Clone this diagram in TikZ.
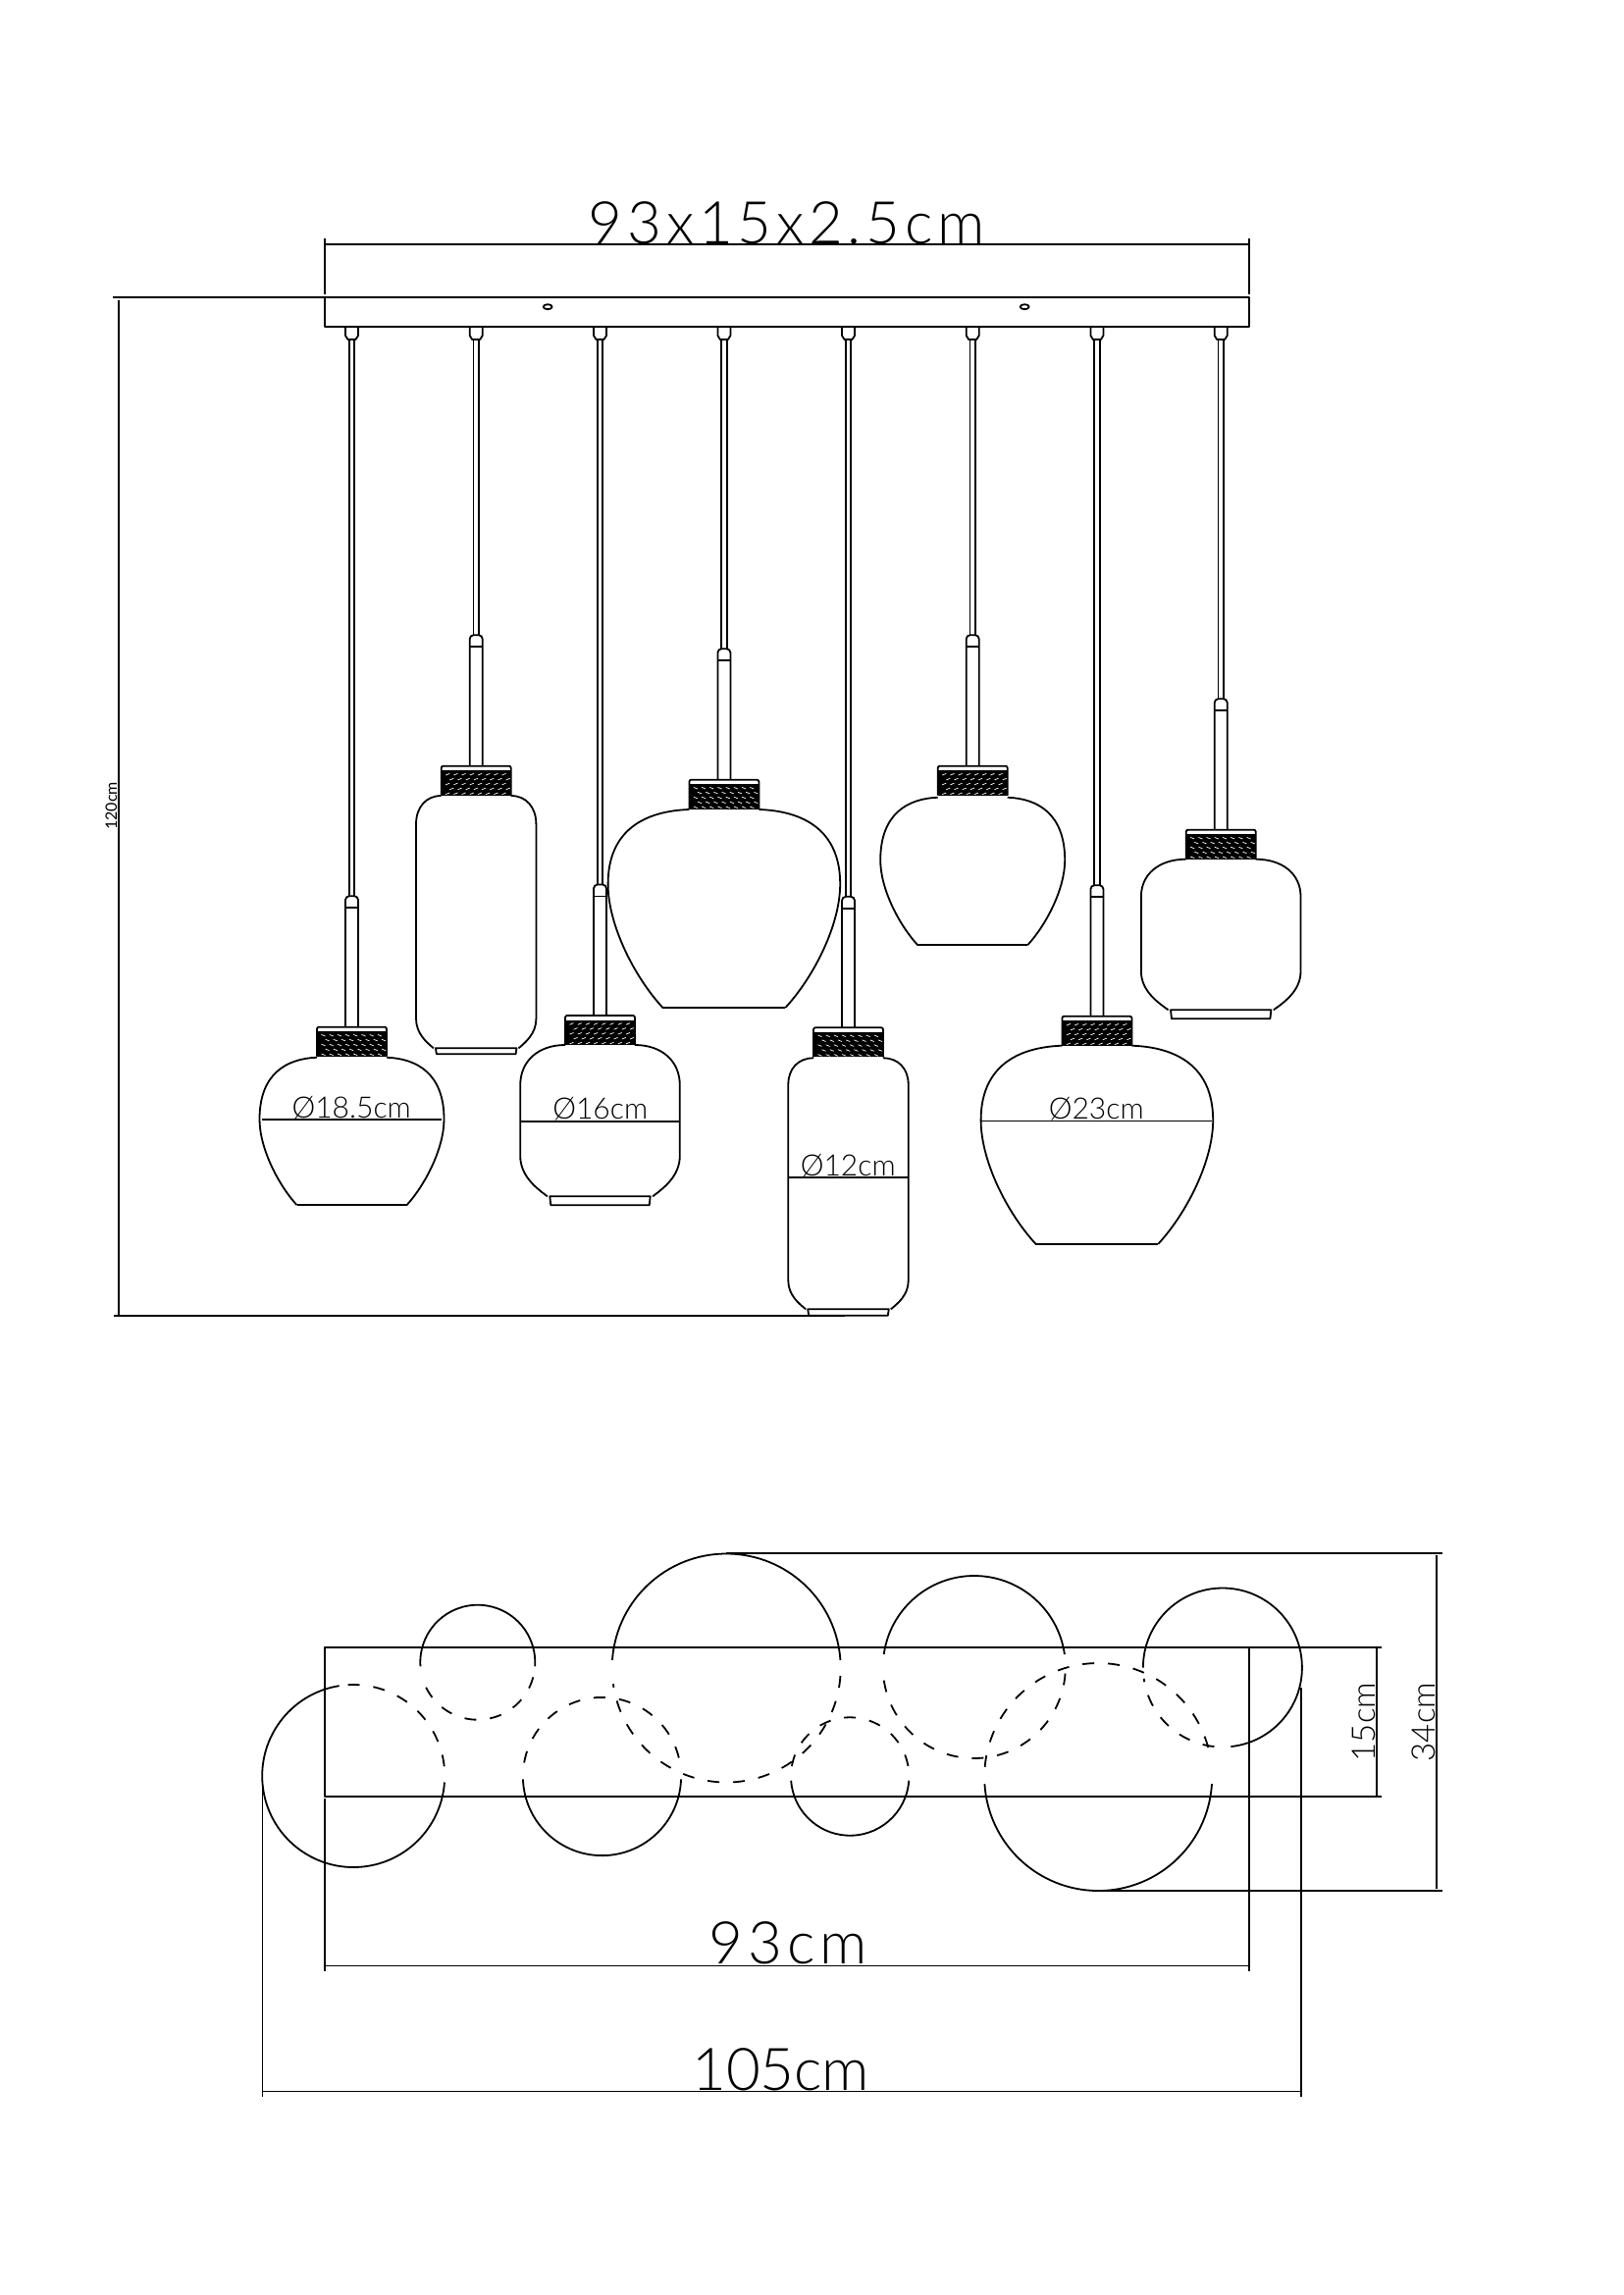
\documentclass[tikz,border=0pt]{standalone}
\usepackage{fontspec}
\newfontfamily\cadwide[LetterSpace=8]{Lato Light}
\newfontfamily\cadsmall{Lato Light}
\newfontfamily\cadtiny{Lato}
\usetikzlibrary{calc}

\tikzset{
	lampline/.style={line width=1.8pt, line join=round},
	dimline/.style={line width=1.6pt},
	bigsize/.style={font=\cadsmall\fontsize{60}{60}\selectfont, anchor=base, inner sep=0pt},
	widesize/.style={bigsize, font=\cadwide\fontsize{60}{60}\selectfont},
	midsize/.style={font=\cadsmall\fontsize{33}{33}\selectfont, anchor=base, inner sep=0pt, rotate=90},
	diasize/.style={font=\cadsmall\fontsize{30}{30}\selectfont, anchor=base, inner sep=0pt},
}

% wire, sleeve and hatched collar: x, collar top, lean of the hatch
\def\lamphead(#1,#2,#3){
	\draw[lampline] (#1-6.5,333) -- (#1-6.5,342) -- (#1-4,346) -- (#1+4,346) -- (#1+6.5,342) -- (#1+6.5,333);
	\draw[lampline] (#1-2.7,346) -- (#1-2.7,#2-133.5);
	\draw[lampline] (#1+2.7,346) -- (#1+2.7,#2-133.5);
	\draw[lampline, rounded corners=4pt] (#1-6.5,#2) -- (#1-6.5,#2-133.5) -- (#1+6.5,#2-133.5) -- (#1+6.5,#2);
	\draw[lampline] (#1-6.5,#2-121.5) -- (#1+6.5,#2-121.5);
	\fill[black] (#1-35.5,#2+4.5) rectangle (#1+35.5,#2+30);
	\draw[lampline, rounded corners=2pt] (#1-35.5,#2+30) -- (#1-35.5,#2) -- (#1+35.5,#2) -- (#1+35.5,#2+30);
	\foreach \row in {0,...,4}
		\foreach \col in {0,...,7}
			\draw[white, line width=0.7pt] ({#1-31+\col*8.2+mod(\row,2)*4.1},{#2+8.5-#3*0.8+\row*4.9}) -- ++(4,{#3*1.6});
}

% glass with a round belly: x, top, half width : belly : height : half base
\def\applebody(#1,#2)(#3:#4:#5:#6){
	\foreach \side in {-1,1}
		\draw[lampline] ({#1+\side*35.5},#2)
			.. controls ({#1+\side*(35.5+0.54*(#3-35.5))},{#2+0.02*#4}) and ({#1+\side*#3},{#2+0.27*#4}) .. ({#1+\side*#3},{#2+#4})
			.. controls ({#1+\side*#3},{#2+#4+0.33*(#5-#4)}) and ({#1+\side*(#3-0.48*(#3-#6))},{#2+#4+0.75*(#5-#4)}) .. ({#1+\side*#6},{#2+#5});
	\draw[lampline] ({#1-#6},#2+#5) -- ({#1+#6},#2+#5);
}

% glass with straight walls: x, top, half width : wall start : wall end : half neck : neck : half foot : foot
\def\jarbody(#1,#2)(#3:#4:#5:#6:#7:#8:#9){
	\foreach \side in {-1,1}{
		\draw[lampline] ({#1+\side*35.5},#2)
			.. controls ({#1+\side*(35.5+0.6*(#3-35.5))},#2) and ({#1+\side*#3},{#2+0.4*#4}) .. ({#1+\side*#3},#2+#4)
			-- ({#1+\side*#3},#2+#5)
			.. controls ({#1+\side*#3},{#2+#5+0.5*(#7-#5)}) and ({#1+\side*(#6+0.4*(#3-#6))},{#2+#7-0.2*(#7-#5)}) .. ({#1+\side*#6},#2+#7);
	}
	\draw[lampline] ({#1-#8},#2+#7) -- ({#1+#8},#2+#7) -- ({#1+#8-1},#2+#9) -- ({#1-#8+1},#2+#9) -- cycle;
}

% one ring of the plan: x, y, radius, solid from : to, dashed from : to
\def\planring(#1,#2,#3)(#4:#5)(#6:#7){
	\draw[lampline] ({#1+#3*cos(#4)},{#2+#3*sin(#4)}) arc (#4:#5:#3);
	\draw[lampline, dash pattern=on 12pt off 14pt] ({#1+#3*cos(#6)},{#2+#3*sin(#6)}) arc (#6:#7:#3);
}

\begin{document}
\begin{tikzpicture}[x=1pt, y=-1pt]
	\useasboundingbox (0,0) rectangle (1654,2339);
	\begin{scope}[xshift=1.2pt]

	%%%%% FRONT VIEW %%%%%

	\draw[lampline] (330,303) rectangle (1271.5,333);
	\draw[line width=2.6pt] (114,303) -- (1271.5,303);
	\draw[lampline] (557,312.7) ellipse (4.5 and 2.5);
	\draw[lampline] (1043,312.7) ellipse (4.5 and 2.5);

	\draw[dimline] (330,249) -- (1271.5,249);
	\draw[dimline] (330,243) -- (330,300);
	\draw[dimline] (1271.5,243) -- (1271.5,300);
	\node[widesize] (barsize) at (800.5,248) {93x15x2.5cm};

	\draw[dimline] (119.6,306) -- (119.6,1340.7);
	\draw[dimline] (115,1340.7) -- (860,1340.7);
	\node[font=\cadtiny\fontsize{16}{16}\selectfont, anchor=base, inner sep=0pt, rotate=90] (dropsize) at (118,821.5) {120cm};

	\lamphead(357.3,1046.7,1);
	\applebody(357.3,1077.7)(94:63:150.5:56);
	\draw[dimline] (266,1141) -- (449,1141);
	\node[diasize] (diaA) at (357,1139.5) {Ø18.5cm};

	\lamphead(484,780.7,-1);
	\jarbody(484,811)(61.2:29:227.3:43.3:257.3:41.3:263.3);

	\lamphead(610.3,1035,-1);
	\jarbody(610.3,1065)(81.3:41:113:53.6:154.3:51.2:163.3);
	\draw[dimline] (530,1143) -- (691,1143);
	\node[diasize] (diaB) at (610.5,1140.5) {Ø16cm};

	\lamphead(736.7,794.7,1);
	\applebody(736.7,825)(118.3:76:202:62.5);

	\lamphead(863.3,1047.3,1);
	\jarbody(863.3,1078.3)(61.2:27:227:43.3:256:41.3:262.4);
	\draw[dimline] (803,1200) -- (924,1200);
	\node[diasize] (diaC) at (863,1198) {Ø12cm};

	\lamphead(990,780.7,-1);
	\applebody(990,812.7)(94:64:150.5:56);

	\lamphead(1116.7,1035.7,-1);
	\applebody(1116.7,1065.7)(118.3:76:202:62.5);
	\draw[dimline] (999,1142.3) -- (1234,1142.3);
	\node[diasize] (diaD) at (1116,1140) {Ø23cm};

	\lamphead(1243,845.7,1);
	\jarbody(1243,875.7)(81.3:38:114.3:53.6:153.6:51.2:162.6);

	%%%%% PLAN VIEW %%%%%

	\draw[lampline] (330,1679) rectangle (1271.5,1830.7);
	\draw[lampline] (1271.5,1679) -- (1407,1679);
	\draw[lampline] (1271.5,1830.7) -- (1407,1830.7);

	\planring(359,1810,93)(261:4)(354:261);
	\planring(485.6,1694.2,58.5)(176:364)(15:165);
	\planring(612.3,1810.5,80.6)(2:178)(190:355);
	\planring(739,1700,116.5)(184:356)(4:172);
	\planring(865,1810.5,60.2)(4:176)(190:350);
	\planring(991.6,1699,93)(188:352)(4:176);
	\planring(1118,1811,116)(3.5:176.5)(185:350);
	\planring(1244.7,1699.5,81)(180:444)(96:172);

	\draw[dimline] (1401.7,1679) -- (1401.7,1830.7);
	\node[midsize] (depthsize) at (1400,1755) {15cm};

	\draw[dimline] (739,1582.7) -- (1469,1582.7);
	\draw[dimline] (1118,1926.7) -- (1469,1926.7);
	\draw[dimline] (1463,1585) -- (1463,1925);
	\node[midsize] (spreadsize) at (1461,1755) {34cm};

	\draw[dimline] (330,2003.3) -- (1271.5,2003.3);
	\draw[dimline] (330,1833) -- (330,2009);
	\draw[dimline] (1271.5,1679) -- (1271.5,2009);
	\node[widesize] (lengthsize) at (802,2001) {93cm};

	\draw[dimline] (266.4,2131.3) -- (1325,2131.3);
	\draw[dimline] (266.4,1820) -- (266.4,2137);
	\draw[dimline] (1325,1720) -- (1325,2137);
	\node[bigsize] (widthsize) at (794.5,2130) {105cm};

	\end{scope}
\end{tikzpicture}
\end{document}
